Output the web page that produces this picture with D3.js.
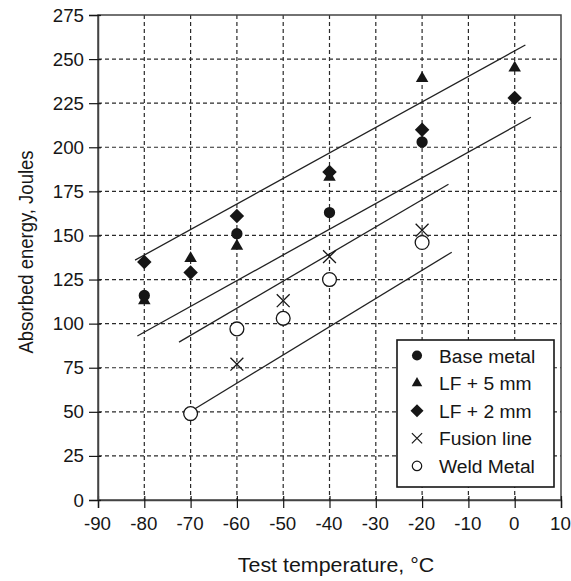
<!DOCTYPE html>
<html>
<head>
<meta charset="utf-8">
<script src="https://cdn.jsdelivr.net/npm/d3@7"></script>
<style>
  html, body { margin: 0; padding: 0; background: #fff; }
  svg { display: block; font-family: "Liberation Sans", Arial, sans-serif; }
</style>
</head>
<body>
<svg id="chart" width="571" height="581"></svg>
<script>
// ---- data ----
const xTicks = [-90, -80, -70, -60, -50, -40, -30, -20, -10, 0, 10];
const yTicks = [0, 25, 50, 75, 100, 125, 150, 175, 200, 225, 250, 275];

const baseMetal  = [[-80, 116], [-60, 151], [-40, 163], [-20, 203]];
const lf5        = [[-80, 113], [-70, 137], [-60, 144], [-40, 183], [-20, 239], [0, 245]];
const lf2        = [[-80, 135], [-70, 129], [-60, 161], [-40, 186], [-20, 210], [0, 228]];
const fusionLine = [[-60, 77], [-50, 113], [-40, 138], [-20, 153]];
const weldMetal  = [[-70, 49], [-60, 97], [-50, 103], [-40, 125], [-20, 146]];

// trend lines: [x1, y1, x2, y2]
const trendLines = [
  [-82, 136, 2.3, 258],
  [-81.5, 93, 3.5, 217],
  [-72.5, 89.5, -14.3, 179],
  [-69.5, 51, -13.6, 140.5]
];

const legendLabels = ["Base metal", "LF + 5 mm", "LF + 2 mm", "Fusion line", "Weld Metal"];

// ---- layout ----
const svg = d3.select("#chart");
const m = { left: 98, top: 15, right: 561, bottom: 500 };
const x = d3.scaleLinear().domain([-90, 10]).range([m.left, m.right]);
const y = d3.scaleLinear().domain([0, 275]).range([m.bottom, m.top]);
const ink = "#161616";
const sx = 1.07; // horizontal stretch of text in the reference

// grid
const grid = svg.append("g");
grid.selectAll("line.v").data(xTicks.slice(1, -1)).join("line")
  .attr("x1", d => x(d)).attr("x2", d => x(d))
  .attr("y1", m.top).attr("y2", m.bottom)
  .attr("stroke", "#2a2a2a").attr("stroke-width", 1.2).attr("stroke-dasharray", "4,3");
grid.selectAll("line.h").data(yTicks.slice(1, -1)).join("line")
  .attr("x1", m.left).attr("x2", m.right)
  .attr("y1", d => y(d)).attr("y2", d => y(d))
  .attr("stroke", "#2a2a2a").attr("stroke-width", 1.2).attr("stroke-dasharray", "4,3");

// frame
svg.append("rect").attr("x", m.left).attr("y", m.top)
  .attr("width", m.right - m.left).attr("height", m.bottom - m.top)
  .attr("fill", "none").attr("stroke", "#444").attr("stroke-width", 1.5);

// axes
const fmt = d => String(d);
const xAxis = svg.append("g").attr("transform", `translate(0,${m.bottom})`)
  .call(d3.axisBottom(x).tickValues(xTicks).tickSize(8).tickPadding(0).tickFormat(fmt));
const yAxis = svg.append("g").attr("transform", `translate(${m.left},0)`)
  .call(d3.axisLeft(y).tickValues(yTicks).tickSize(9).tickPadding(0).tickFormat(fmt));
[xAxis, yAxis].forEach(a => {
  a.select(".domain").attr("stroke", "#444").attr("stroke-width", 1.5);
  a.selectAll(".tick line").attr("stroke", ink).attr("stroke-width", 1.2);
  a.selectAll(".tick text").attr("fill", ink).style("font-size", "17.5px")
    .style("font-family", "'Liberation Sans', Arial, sans-serif");
});
xAxis.selectAll(".tick line").attr("y1", -4);
yAxis.selectAll(".tick line").attr("x1", 3);
xAxis.selectAll(".tick text").attr("y", 0).attr("dy", 0)
  .attr("transform", `translate(-1,30) scale(${sx},1)`);
yAxis.selectAll(".tick text").attr("x", 0).attr("dy", 0)
  .attr("transform", `translate(-14,6) scale(${sx},1)`);

// axis titles
svg.append("text").attr("transform", `translate(336,572) scale(${sx},1)`).attr("text-anchor", "middle")
  .attr("fill", ink).style("font-size", "20px").text("Test temperature, °C");
svg.append("text").attr("transform", `translate(33,252) scale(${sx},1) rotate(-90)`).attr("text-anchor", "middle")
  .attr("fill", ink).style("font-size", "18.5px").text("Absorbed energy, Joules");

// trend lines
svg.append("g").selectAll("line").data(trendLines).join("line")
  .attr("x1", d => x(d[0])).attr("y1", d => y(d[1]))
  .attr("x2", d => x(d[2])).attr("y2", d => y(d[3]))
  .attr("stroke", "#222").attr("stroke-width", 1.3);

// symbols
const symX = d3.symbolTimes || d3.symbolX;
const styles = [
  { data: lf5,        type: d3.symbolTriangle, size: 68,  fill: ink,   stroke: "none", rot: 0 },
  { data: baseMetal,  type: d3.symbolCircle,   size: 100, fill: ink,   stroke: "none", rot: 0 },
  { data: lf2,        type: d3.symbolSquare,   size: 105, fill: ink,   stroke: "none", rot: 45 },
  { data: fusionLine, type: symX,              size: 110, fill: "none", stroke: ink,   rot: 0 },
  { data: weldMetal,  type: d3.symbolCircle,   size: 150, fill: "#fff", stroke: ink,  rot: 0 }
];
const marks = svg.append("g");
styles.forEach(s => {
  marks.append("g").selectAll("path").data(s.data).join("path")
    .attr("d", d3.symbol().type(s.type).size(s.size))
    .attr("transform", d => `translate(${x(d[0])},${y(d[1])}) rotate(${s.rot})`)
    .attr("fill", s.fill).attr("stroke", s.stroke).attr("stroke-width", 1.3);
});

// legend
const lg = svg.append("g");
lg.append("rect").attr("x", 397).attr("y", 340).attr("width", 157).attr("height", 147)
  .attr("fill", "#fff").attr("stroke", ink).attr("stroke-width", 1.6);
const legendOrder = [styles[1], styles[0], styles[2], styles[3], styles[4]];
const legendSizes = [80, 48, 85, 70, 70];
legendLabels.forEach((lab, i) => {
  const s = legendOrder[i];
  const cy = 355.5 + i * 27.6;
  lg.append("path")
    .attr("d", d3.symbol().type(s.type).size(legendSizes[i]))
    .attr("transform", `translate(417,${cy}) rotate(${s.rot})`)
    .attr("fill", s.fill).attr("stroke", s.stroke).attr("stroke-width", 1.2);
  lg.append("text").attr("transform", `translate(439,${cy + 7}) scale(${sx},1)`).attr("fill", ink)
    .style("font-size", "18px").text(lab);
});
</script>
</body>
</html>
